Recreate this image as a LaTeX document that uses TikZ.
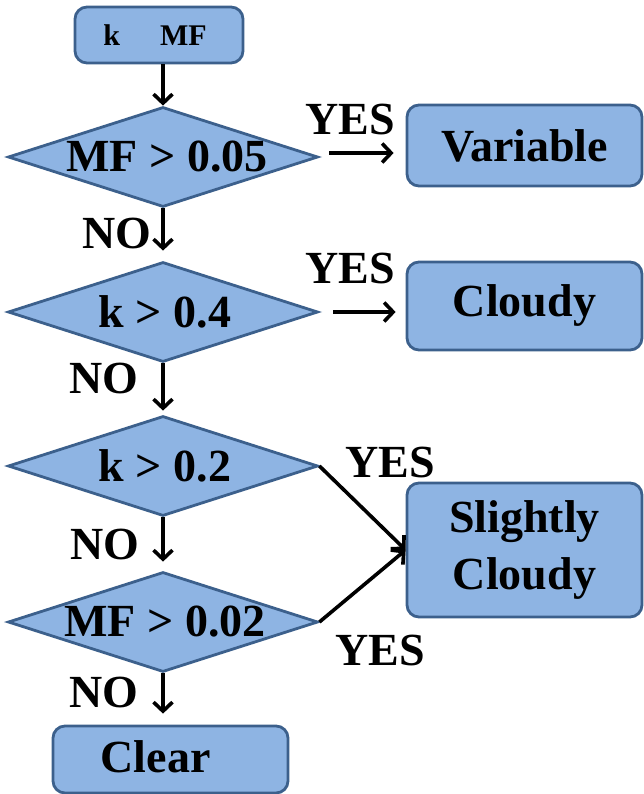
\documentclass[tikz,border=0pt]{standalone}
\usepackage{fontspec}
\setmainfont{Liberation Serif}
\usetikzlibrary{shapes.geometric,arrows.meta}
\definecolor{fil}{RGB}{142,180,227}
\definecolor{bdr}{RGB}{60,96,140}
\begin{document}
\begin{tikzpicture}[x=1pt,y=-1pt,
  big/.style={font=\bfseries\fontsize{46}{56}\selectfont},
  box/.style={big, draw=bdr, fill=fil, line width=2.8pt, rounded corners=12pt,
    minimum width=235pt, inner sep=0pt, align=center},
  dia/.style={big, draw=bdr, fill=fil, line width=2.8pt, diamond, aspect=3.1,
    minimum width=310pt, minimum height=100pt, inner sep=0pt},
  lab/.style={big, inner sep=0pt},
  arr/.style={line width=3.6pt, -{Straight Barb[length=9pt,width=19pt]}}
]
\useasboundingbox (0,0) rectangle (643,794);

% start box
\node[draw=bdr, fill=fil, line width=2.8pt, rounded corners=12pt, inner sep=0pt,
      minimum width=168pt, minimum height=56pt,
      font=\bfseries\fontsize{30}{36}\selectfont]
  (start) at (159,35) {\raisebox{-3pt}{\makebox[0pt]{\hspace*{-8pt}k\hspace{40pt}MF}}};

% decisions
\node[dia] (d1) at (163,157) {\makebox[0pt]{\hspace*{8pt}MF > 0.05}};
\node[dia] (d2) at (163,312) {\makebox[0pt]{\hspace*{4pt}k > 0.4}};
\node[dia] (d3) at (163,466) {\makebox[0pt]{\hspace*{4pt}k > 0.2}};
\node[dia] (d4) at (163,622) {\makebox[0pt]{\hspace*{4pt}MF > 0.02}};

% outcomes
\node[box, minimum height=81pt]  (var)   at (524.5,145.5) {\raisebox{-6pt}{Variable}};
\node[box, minimum height=88pt]  (cld)   at (524.5,306)   {\raisebox{-3pt}{Cloudy}};
\node[box, minimum height=134pt] (scld)  at (524.5,550)   {\raisebox{-4pt}{\parbox{235pt}{\centering Slightly\\Cloudy}}};
\node[box, minimum height=67pt]  (clear) at (170.5,759.5) {\raisebox{6pt}{\makebox[0pt]{\hspace*{-30pt}Clear}}};

% labels
\node[lab] (yes1) at (350,119) {YES};
\node[lab] (yes2) at (350,268) {YES};
\node[lab] (yes3) at (390,462) {YES};
\node[lab] (yes4) at (380,650) {YES};
\node[lab] (no1) at (117,233) {NO};
\node[lab] (no2) at (104,378) {NO};
\node[lab] (no3) at (105,544) {NO};
\node[lab] (no4) at (104,692) {NO};

% vertical connectors
\draw[arr] (d1.north |- start.south) -- (d1.north);
\draw[arr, shorten >=10pt] (d1.south) -- (d2.north);
\draw[arr, shorten >=4pt]  (d2.south) -- (d3.north);
\draw[arr, shorten >=9pt]  (d3.south) -- (d4.north);
\draw[arr, shorten >=11pt] (d4.south) -- (d4.south |- clear.north);

% YES connectors
\coordinate (y1) at ([xshift=10pt,yshift=4pt]d1.east);
\draw[arr, shorten >=12pt] (y1) -- (var.west |- y1);
\coordinate (y2) at ([xshift=14pt]d2.east);
\draw[arr, shorten >=10pt] (y2) -- (cld.west |- y2);
\draw[arr] (d3.east) -- (scld.west);
\draw[arr] (d4.east) -- (scld.west);
\end{tikzpicture}
\end{document}
